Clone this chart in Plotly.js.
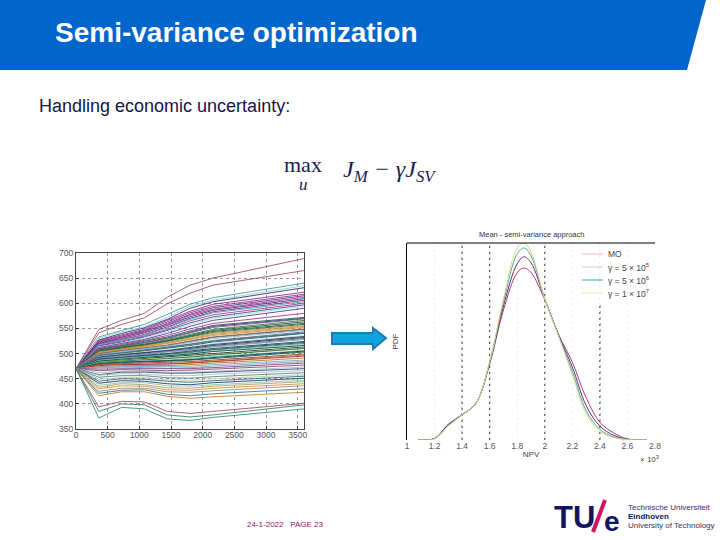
<!DOCTYPE html>
<html><head><meta charset="utf-8">
<script src="https://cdn.plot.ly/plotly-3.0.1.min.js"></script>
<style>html,body{margin:0;padding:0;background:#fff}#c{width:720px;height:540px}</style>
</head><body><div id="c"></div>
<script>
// ---------- data: left chart (scenario trajectories) ----------
const timeSteps = [0,360,720,1080,1440,1800,2160,3600];
const scenarioRows = [
[470,548,566,580,612,636,650,689],[470,541,558,571,599,620,636,665],
[470,533,546,558,578,598,611,640],[470,530,543,553,572,594,606,635],
[470,527,540,551,568,590,603,631],[470,526,537,548,566,584,598,622],
[470,524,535,546,563,581,594,618],[470,523,533,543,560,578,591,615],
[470,521,532,545,558,576,588,612],[470,520,530,541,556,573,586,609],
[470,519,528,538,553,570,583,606],[470,518,527,537,551,568,581,603],
[470,516,525,535,548,565,577,600],[470,515,523,533,546,561,573,597],
[470,513,521,530,543,558,570,594],[470,512,520,528,540,554,566,590],
[470,510,518,526,536,549,560,580],[470,509,516,524,533,545,556,572],
[470,508,515,522,531,543,554,570],[470,507,514,521,530,541,552,569],
[470,506,513,519,528,538,548,566],[470,505,512,518,526,536,546,563],
[470,504,511,517,525,535,544,560],[470,503,510,516,524,533,542,558],
[470,503,509,515,522,531,540,556],[470,502,508,514,521,529,538,554],
[470,501,507,513,520,528,536,552],[470,500,506,511,517,525,533,549],
[470,499,505,510,516,524,532,548],[470,498,504,509,515,522,530,546],
[470,497,502,507,513,519,526,543],[470,496,501,506,512,518,525,541],
[470,495,500,505,510,516,523,540],[470,494,499,503,508,513,520,536],
[470,493,498,502,506,512,518,534],[470,492,497,501,505,510,516,532],
[470,491,496,499,504,508,514,530],[470,490,495,498,503,507,513,528],
[470,489,493,496,500,505,510,524],[470,488,492,495,499,503,508,522],
[470,487,491,494,498,502,507,520],[470,486,490,493,496,500,505,518],
[470,485,489,492,495,499,504,516],[470,484,487,490,493,496,500,513],
[470,483,486,488,491,494,498,511],[470,482,485,487,490,493,497,510],
[470,481,484,485,487,490,494,506],[470,480,483,484,486,488,492,505],
[470,479,482,483,485,487,490,503],[470,478,480,481,482,484,487,499],
[470,477,479,479,480,482,485,497],[470,476,478,478,479,481,484,495],
[470,474,476,476,476,478,481,491],[470,473,474,474,474,475,478,487],
[470,471,473,472,471,472,475,484],[470,469,470,470,469,470,472,481],
[470,466,468,467,466,467,469,477],[470,462,465,465,463,463,465,473],
[470,458,463,463,461,461,463,470],[470,457,460,459,456,456,459,466],
[470,453,456,456,452,451,454,462],[470,449,452,452,448,447,450,458],
[470,445,450,449,445,443,446,455],[470,441,446,445,440,438,442,451],
[470,437,442,442,436,435,438,447],[470,433,440,438,432,431,435,444],
[470,430,436,435,428,427,431,440],[470,425,431,431,424,423,426,436],
[470,421,427,428,419,416,420,430],[470,416,424,424,415,411,414,423],
[470,394,405,404,385,381,385,401],[470,385,400,398,378,374,378,398],
[470,372,393,390,370,367,373,390]
];
const scenarioColors = [
"#a0506a","#a0506a","#4a9a9a","#8fd4d0","#34306e","#8a2e8e","#8a2e8e","#7a2a86","#a03aa0","#3a3a7a",
"#7a2a86","#5aa0a8","#a03aa0","#4a4a8a","#9fdcdc","#5a3a8a","#9a3a9a","#2a5a5a","#3a3a7a","#7a5a7a",
"#3e7a4a","#1e5a3a","#1e5a3a","#2e6a3a","#bfa060","#d08a3a","#d09a30","#b04a3a","#3a7a8a","#a0b0c0",
"#6a6a9a","#2a7a6a","#2a5a7a","#c8d8e0","#1a4a3a","#1a3a6a","#8a5a9a","#70a0b8","#1e3a6a","#0e4a4a",
"#3a8a6a","#8fd4c0","#0e4a4a","#0a3a3a","#d0c050","#1a6a4a","#6ac0b0","#0e3a3a","#105a4a","#8a3a3a",
"#d08030","#a02a2a","#c07030","#70a8c0","#90a0a8","#7a4a8a","#8a4a6a","#a8c0c8","#2a4a7a","#b0b8b0",
"#4a8a90","#c0c8a0","#2a6a80","#1a3a6a","#90c8a0","#b0a070","#d09040","#a0906a","#3a7a8a","#c08030",
"#a0506a","#3a8a5a","#3a8a80"
];
const leftXTicks = [0,500,1000,1500,2000,2500,3000,3500];
const leftYTicks = [350,400,450,500,550,600,650,700];

// ---------- data: right chart (probability density of NPV) ----------
const npvGrid = [1.08,1.2,1.3,1.4,1.5,1.6,1.7,1.8,1.85,1.9,2.0,2.1,2.2,2.3,2.4,2.5,2.6,2.74];
const pdfMO     = [0,.008,.080,.128,.186,.385,.660,.850,.873,.850,.712,.536,.395,.215,.090,.036,.006,0];
const pdfLow    = [0,.008,.078,.128,.186,.390,.680,.895,.930,.900,.715,.532,.370,.175,.070,.024,.004,0];
const pdfMid    = [0,.007,.074,.127,.186,.394,.700,.945,.975,.935,.718,.530,.348,.150,.054,.016,.003,0];
const pdfHigh   = [0,.006,.072,.126,.186,.398,.715,.975,1.00,.955,.715,.526,.332,.135,.044,.012,.002,0];
const pdfNames  = ["MO","γ = 5 × 10<sup>5</sup>","γ = 5 × 10<sup>6</sup>","γ = 1 × 10<sup>7</sup>"];
const pdfColors = ["#b0406a","#5a2e82","#46a8a4","#dcd880"];
const keyColors = ["#f0c4d2","#eccaee","#5ab8b8","#f5f2b4"];
const rightXTicks = [1,1.2,1.4,1.6,1.8,2,2.2,2.4,2.6,2.8];
const rightXLabels = ["1","1.2","1.4","1.6","1.8","2","2.2","2.4","2.6","2.8"];
const strongGridAt = [1.4,1.6,2];

// ---------- page helpers ----------
const W=720,H=540;
const px=v=>v/W, py=v=>1-v/H;
const sans='"Liberation Sans",Arial,sans-serif', serif='"Liberation Serif",serif';
const textAt=(x,y,text,size,color,extra)=>Object.assign({xref:'paper',yref:'paper',x:px(x),y:py(y),text,showarrow:false,
  xanchor:'left',yanchor:'middle',font:{family:sans,size,color}},extra||{});
const navy='#1c1c5a';

const traces=[];
scenarioRows.forEach((row,i)=>traces.push({x:timeSteps,y:row,type:'scatter',mode:'lines',xaxis:'x',yaxis:'y',
  showlegend:false,hoverinfo:'skip',line:{color:scenarioColors[i],width:0.9}}));
[pdfMO,pdfLow,pdfMid,pdfHigh].forEach((s,i)=>traces.push({x:npvGrid,y:s,type:'scatter',mode:'lines',xaxis:'x2',yaxis:'y2',
  showlegend:false,name:pdfNames[i],line:{color:pdfColors[i],width:1,shape:'spline'}}));

const shapes=[
 {type:'path',xref:'paper',yref:'paper',layer:'below',line:{width:0},fillcolor:'#0066cc',
  path:`M 0 ${py(0)} L ${px(706)} ${py(0)} L ${px(687)} ${py(70)} L 0 ${py(70)} Z`},
 {type:'path',xref:'paper',yref:'paper',fillcolor:'#0ea2e0',line:{color:'#1a7cb0',width:2},
  path:`M ${px(332)} ${py(333)} L ${px(373)} ${py(333)} L ${px(373)} ${py(328)} L ${px(386)} ${py(338)} L ${px(373)} ${py(349)} L ${px(373)} ${py(344)} L ${px(332)} ${py(344)} Z`},
 {type:'line',xref:'paper',yref:'paper',x0:px(407),x1:px(655),y0:py(243),y1:py(243),line:{color:'#000',width:1}},
 {type:'line',xref:'paper',yref:'paper',x0:px(593),x1:px(605),y0:py(532),y1:py(500),line:{color:'#d4145a',width:4}}
];
strongGridAt.forEach(v=>shapes.push({type:'line',xref:'x2',yref:'y2',x0:v,x1:v,y0:0,y1:1,layer:'below',line:{color:'#333',width:1,dash:'dot'}}));
shapes.push({type:'line',xref:'x2',yref:'y2',x0:2.4,x1:2.4,y0:0,y1:0.7,layer:'below',line:{color:'#333',width:1,dash:'dot'}});
keyColors.forEach((c,i)=>shapes.push({type:'line',xref:'paper',yref:'paper',x0:px(582),x1:px(603),y0:py(254+13*i),y1:py(254+13*i),line:{color:c,width:1.2}}));

const annotations=[
 textAt(37,106,'Handling economic uncertainty:',18,'#14144a'),
 textAt(303,164,'max',22,navy,{xanchor:'center',font:{family:serif,size:22,color:navy}}),
 textAt(303,185,'<i>u</i>',17,navy,{xanchor:'center',font:{family:serif,size:17,color:navy}}),
 textAt(341,171,'<i>J<sub>M</sub> − γJ<sub>SV</sub></i>',24,navy,{font:{family:serif,size:24,color:navy}}),
 textAt(531,234.5,'Mean - semi-variance approach',7.5,'#333',{xanchor:'center'}),
 textAt(638,459,'× 10<sup>3</sup>',8,'#444'),
 textAt(285,524,'24-1-2022   PAGE 23',8,'#8a2060',{xanchor:'center'}),
 textAt(552,517,'TU',31,'#14145e',{font:{family:sans,size:31,color:'#14145e',weight:700}}),
 textAt(602,521,'e',28,'#14145e',{font:{family:sans,size:28,color:'#14145e',weight:700}}),
 textAt(626,507,'Technische Universiteit',8,'#33335e'),
 textAt(626,516,'<b>Eindhoven</b>',8,'#14145e'),
 textAt(626,525,'University of Technology',8,'#33335e')
];
pdfNames.forEach((n,i)=>annotations.push(textAt(606,254+13*i,n,8.5,'#444')));

const tickF={family:sans,size:8.5,color:'#555'};
const layout={
 width:W,height:H,margin:{l:0,r:0,t:0,b:0},paper_bgcolor:'#fff',plot_bgcolor:'#fff',showlegend:false,
 title:{text:'<b>Semi-variance optimization</b>',x:px(55),xanchor:'left',y:py(32),yanchor:'middle',xref:'paper',yref:'paper',
  font:{family:sans,size:28,color:'#fff'}},
 xaxis:{domain:[px(76),px(304)],anchor:'y',range:[0,3600],tickvals:leftXTicks,ticks:'inside',ticklen:3,tickcolor:'#333',
  showgrid:true,gridcolor:'#999',griddash:'dot',gridwidth:1,showline:true,mirror:true,linecolor:'#444',linewidth:1,
  zeroline:false,tickfont:tickF,ticklabelstandoff:-2},
 yaxis:{domain:[py(429),py(253)],anchor:'x',range:[350,700],tickvals:leftYTicks,ticks:'inside',ticklen:3,tickcolor:'#333',
  showgrid:true,gridcolor:'#999',griddash:'dot',gridwidth:1,showline:true,mirror:true,linecolor:'#444',linewidth:1,
  zeroline:false,tickfont:tickF},
 xaxis2:{domain:[px(407),px(655)],anchor:'y2',range:[1,2.8],tickvals:rightXTicks,ticktext:rightXLabels,ticks:'',tickcolor:'#222',
  showgrid:true,gridcolor:'#f0f0f0',griddash:'dot',showline:false,zeroline:false,tickfont:tickF,ticklabelstandoff:-1,
  title:{text:'NPV',font:{family:sans,size:8,color:'#444'},standoff:1}},
 yaxis2:{domain:[py(440),py(243)],anchor:'x2',range:[0,1],showticklabels:false,ticks:'',showgrid:false,showline:true,linecolor:'#000',linewidth:1,zeroline:false,
  title:{text:'PDF',font:{family:sans,size:8,color:'#333'},standoff:6}},
 shapes,annotations
};
Plotly.newPlot('c',traces,layout,{staticPlot:true,displayModeBar:false});
</script></body></html>
